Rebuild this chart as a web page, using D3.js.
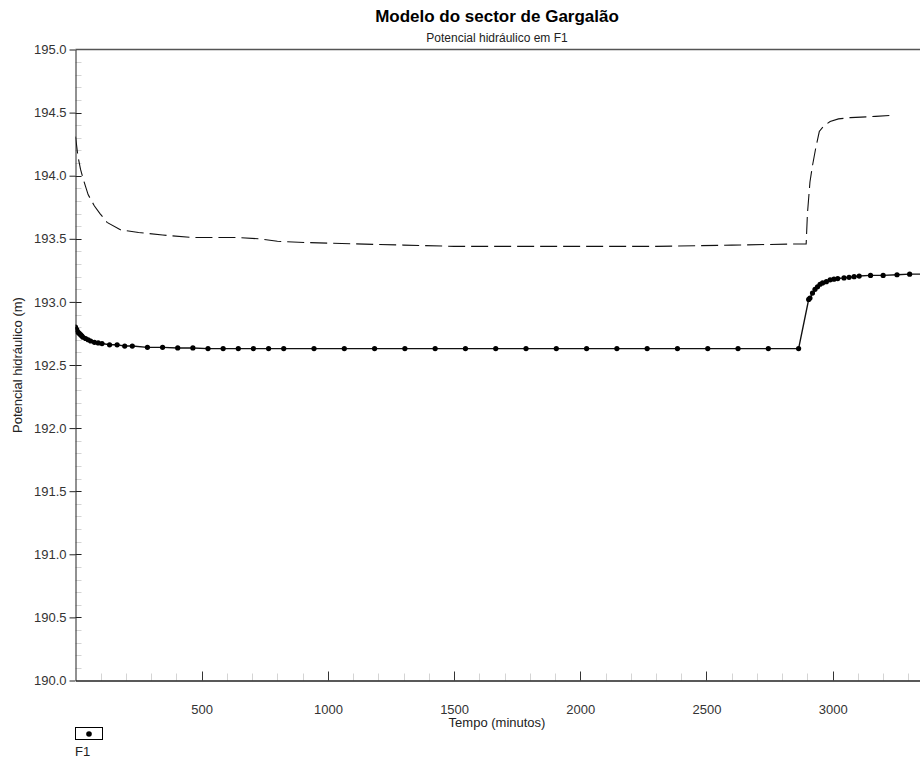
<html lang="pt">
  <head>
    <meta charset="UTF-8" />
    <title>Modelo do sector de Gargalão</title>
    <script src="https://d3js.org/d3.v7.min.js"></script>
  </head>
  <style>
    body { margin: 0; background: #fff; }
    svg { display: block; font-family: "Liberation Sans", Arial, sans-serif; }
  </style>
  <body>
    <svg></svg>
    <script>
      var width = 920;
      var height = 758;

      // F1 - calculated head (solid line with dots)
      var f1Time = [0, 5, 10, 15, 20, 25, 30, 40, 50, 60, 75, 90, 105, 135, 165, 195, 225,
        285, 345, 405, 465, 525, 585, 645, 705, 765, 825,
        945, 1065, 1185, 1305, 1425, 1545, 1665, 1785, 1905, 2025, 2145, 2265, 2385, 2505, 2625, 2745, 2865,
        2905, 2910, 2920, 2930, 2940, 2950, 2960, 2975, 2990, 3005, 3020, 3045, 3065, 3085, 3105,
        3150, 3200, 3255, 3305, 3360];
      var f1Head = [192.80, 192.78, 192.76, 192.75, 192.74, 192.73, 192.72, 192.71, 192.70, 192.69, 192.68, 192.675, 192.67, 192.66, 192.66, 192.65, 192.65,
        192.64, 192.64, 192.635, 192.635, 192.63, 192.63, 192.63, 192.63, 192.63, 192.63,
        192.63, 192.63, 192.63, 192.63, 192.63, 192.63, 192.63, 192.63, 192.63, 192.63, 192.63, 192.63, 192.63, 192.63, 192.63, 192.63, 192.63,
        193.02, 193.03, 193.07, 193.10, 193.12, 193.14, 193.15, 193.16, 193.175, 193.18, 193.185, 193.19, 193.195, 193.20, 193.205,
        193.21, 193.21, 193.215, 193.22, 193.22];

      // second series (dashed, no legend entry)
      var dashTime = [0, 10, 20, 31, 50, 75, 97, 125, 180, 250, 345, 465, 640, 730, 800, 920,
        1100, 1300, 1500, 1700, 2000, 2300, 2600, 2895, 2900, 2910, 2920, 2933, 2947, 2963,
        2990, 3023, 3070, 3170, 3248];
      var dashHead = [194.31, 194.15, 194.05, 193.97, 193.85, 193.76, 193.70, 193.63, 193.57, 193.55, 193.53, 193.51, 193.51, 193.50, 193.48, 193.47,
        193.46, 193.45, 193.44, 193.44, 193.44, 193.44, 193.45, 193.46, 193.70, 193.95, 194.08, 194.22, 194.35, 194.39,
        194.43, 194.45, 194.46, 194.47, 194.48];

      var xTicks = [500, 1000, 1500, 2000, 2500, 3000];
      var yTicks = [190.0, 190.5, 191.0, 191.5, 192.0, 192.5, 193.0, 193.5, 194.0, 194.5, 195.0];

      var plot = { left: 75.5, right: 920, top: 49.5, bottom: 680.5 };

      var svg = d3.select("svg").attr("width", width).attr("height", height);

      var x = d3.scaleLinear().domain([0, 3346]).range([plot.left, plot.right]);
      var y = d3.scaleLinear().domain([190, 195]).range([plot.bottom, plot.top]);

      // titles
      svg.append("text")
        .attr("x", 497).attr("y", 22)
        .attr("text-anchor", "middle")
        .style("font-size", "17px").style("font-weight", "bold").style("fill", "#000")
        .text("Modelo do sector de Gargalão");
      svg.append("text")
        .attr("x", 497).attr("y", 42)
        .attr("text-anchor", "middle")
        .style("font-size", "12px").style("fill", "#222")
        .text("Potencial hidráulico em F1");

      // minor ticks (light grey, inside)
      var yMinor = d3.range(1, 50).map((i) => 190 + i / 10);
      svg.append("g").selectAll("line")
        .data(yMinor)
        .join("line")
        .attr("x1", plot.left).attr("x2", plot.left + 6)
        .attr("y1", (d) => Math.round(y(d)) + 0.5).attr("y2", (d) => Math.round(y(d)) + 0.5)
        .style("stroke", "#d4d4d4");

      var xMinor = d3.range(1, 34).map((i) => i * 100);
      svg.append("g").selectAll("line")
        .data(xMinor)
        .join("line")
        .attr("x1", (d) => Math.round(x(d)) + 0.5).attr("x2", (d) => Math.round(x(d)) + 0.5)
        .attr("y1", plot.bottom).attr("y2", plot.bottom - 7)
        .style("stroke", "#d4d4d4");

      // top frame
      svg.append("line")
        .attr("x1", plot.left).attr("x2", plot.right)
        .attr("y1", plot.top).attr("y2", plot.top)
        .style("stroke", "#555").style("stroke-width", 1.5);

      // y axis
      var yAxis = svg.append("g")
        .attr("transform", `translate(${plot.left}, 0)`)
        .call(d3.axisLeft(y).tickValues(yTicks).tickFormat(d3.format(".1f")).tickSize(6).tickSizeOuter(0));
      yAxis.selectAll("text").style("font-size", "13px").style("fill", "#333").style("font-family", "Liberation Sans, Arial, sans-serif");
      yAxis.selectAll("line").style("stroke", "#222");
      yAxis.select(".domain").style("stroke", "#222");
      // right half of major y ticks
      svg.append("g").selectAll("line")
        .data(yTicks.slice(1, -1))
        .join("line")
        .attr("x1", plot.left).attr("x2", plot.left + 6)
        .attr("y1", (d) => Math.round(y(d)) + 0.5).attr("y2", (d) => Math.round(y(d)) + 0.5)
        .style("stroke", "#222");

      // x axis
      var xAxis = svg.append("g")
        .attr("transform", `translate(0, ${plot.bottom})`)
        .call(d3.axisBottom(x).tickValues(xTicks).tickFormat(d3.format("d")).tickSize(0).tickPadding(24).tickSizeOuter(0));
      xAxis.selectAll("text").style("font-size", "13px").style("fill", "#333").style("font-family", "Liberation Sans, Arial, sans-serif");
      xAxis.select(".domain").style("stroke", "#222").style("stroke-width", 1.3);
      svg.append("g").selectAll("line")
        .data(xTicks)
        .join("line")
        .attr("x1", (d) => Math.round(x(d)) + 0.5).attr("x2", (d) => Math.round(x(d)) + 0.5)
        .attr("y1", plot.bottom).attr("y2", plot.bottom - 9)
        .style("stroke", "#333");

      // axis titles
      svg.append("text")
        .attr("x", 497).attr("y", 727)
        .attr("text-anchor", "middle")
        .style("font-size", "13px").style("fill", "#222")
        .text("Tempo (minutos)");
      svg.append("text")
        .attr("transform", `translate(22, ${(plot.top + plot.bottom) / 2}) rotate(-90)`)
        .attr("text-anchor", "middle")
        .style("font-size", "13px").style("fill", "#222")
        .text("Potencial hidráulico (m)");

      // clip
      svg.append("clipPath").attr("id", "clip")
        .append("rect")
        .attr("x", plot.left).attr("y", plot.top)
        .attr("width", plot.right - plot.left).attr("height", plot.bottom - plot.top);

      var gData = svg.append("g").attr("clip-path", "url(#clip)");

      var line = d3.line()
        .x((d) => x(d[0]))
        .y((d) => y(d[1]));

      var dashData = d3.zip(dashTime, dashHead);
      gData.append("path")
        .datum(dashData)
        .attr("d", line)
        .style("fill", "none")
        .style("stroke", "#111")
        .style("stroke-width", 1.1)
        .style("stroke-dasharray", "17,6");

      var f1Data = d3.zip(f1Time, f1Head);
      gData.append("path")
        .datum(f1Data)
        .attr("d", line)
        .style("fill", "none")
        .style("stroke", "#111")
        .style("stroke-width", 1.4);

      gData.append("g")
        .selectAll("circle")
        .data(f1Data)
        .join("circle")
        .attr("cx", (d) => x(d[0]))
        .attr("cy", (d) => y(d[1]))
        .attr("r", 2.6)
        .style("fill", "#000");

      // legend
      var legend = svg.append("g").attr("transform", "translate(75, 727)");
      legend.append("rect")
        .attr("x", 0.5).attr("y", 0.5)
        .attr("width", 27).attr("height", 12)
        .style("fill", "#fff").style("stroke", "#000");
      legend.append("circle")
        .attr("cx", 14).attr("cy", 7)
        .attr("r", 2.8)
        .style("fill", "#000");
      legend.append("text")
        .attr("x", 0).attr("y", 29)
        .style("font-size", "13px").style("fill", "#222")
        .text("F1");
    </script>
  </body>
</html>
